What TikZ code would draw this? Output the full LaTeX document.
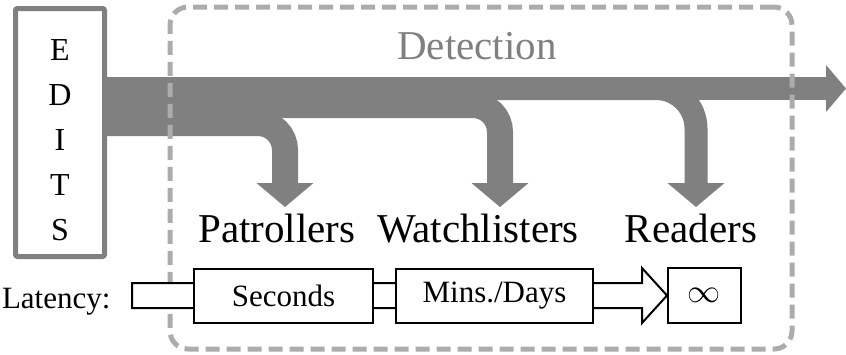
\documentclass[tikz,border=0pt]{standalone}
\usepackage{fontspec}
\setmainfont{Liberation Serif}
\usepackage{graphicx}
\usetikzlibrary{arrows.meta}
\definecolor{flowgray}{RGB}{128,128,128}
\definecolor{dashgray}{RGB}{172,172,172}
\newcommand{\bigfont}{\fontsize{41}{49}\selectfont}
\newcommand{\letterfont}{\fontsize{32}{38}\selectfont}
\newcommand{\smallfont}{\fontsize{31}{37}\selectfont}

\begin{document}
\begin{tikzpicture}[x=1pt,y=-1pt,
    editbox/.style={draw=flowgray,line width=5pt,rounded corners=2pt,minimum width=89pt,minimum height=248pt,inner sep=0pt},
    flow/.style={draw=flowgray,line width=#1},
    branch/.style={draw=flowgray,line width=26pt,-{Triangle[length=24pt,width=57pt,line width=0pt]}},
    detbox/.style={draw=dashgray,line width=5pt,rounded corners=18pt,dash pattern=on 14pt off 7pt,minimum width=622pt,minimum height=342pt},
    label/.style={anchor=base,font=\bigfont},
    latbox/.style={draw,line width=2pt,fill=white,font=\smallfont,inner sep=0pt,minimum height=54pt}]
        \useasboundingbox (0,0) rectangle (846,354);
        % edits box
        \node[editbox] (edits) at (60,132.5) {};
        \foreach \ch [count=\i from 0] in {E,D,I,T,S}
            \node[anchor=base,font=\letterfont] (edit\i) at (60,60+45*\i) {\ch};
        % flow out of the box
        \coordinate (patstart) at (107,123);
        \coordinate (watstart) at (107,105);
        \coordinate (readstart) at (107,88.5);
        \coordinate (patend) at (285,207);
        \coordinate (watend) at (500,207);
        \coordinate (readend) at (696,207);
        \coordinate (flowend) at (846,88.5);
        \draw[branch,rounded corners=27pt] (patstart) -| (patend);
        \draw[branch,rounded corners=27pt] (watstart) -| (watend);
        \draw[branch,line width=23pt,rounded corners=40pt] (readstart) -| (readend);
        \draw[flow=23pt,-{Triangle[length=20pt,width=47pt,line width=0pt]}] (readstart) -- (flowend);
        % detection area
        \node[detbox] (detect) at (481,178) {};
        \node[label,text=flowgray] (dettitle) at (477,59) {Detection};
        \node[label] (patrollers) at (277,242) {Patrollers};
        \node[label] (watchlisters) at (478,242) {Watchlisters};
        \node[label] (readers) at (691,242) {Readers};
        % latency row
        \node[anchor=base east,font=\smallfont] (latency) at (114,308) {Latency:};
        \node[latbox,minimum width=73pt,minimum height=55pt] (inf) at (704.5,295.5) {\scalebox{1.33}{$\infty$}};
        \draw[line width=2pt,fill=white] (132,283) -- (642,283) -- (642,268) -- (inf.west)
            -- (642,323) -- (642,308) -- (132,308) -- cycle;
        \node[latbox,minimum width=179pt] (seconds) at (283.5,296) {Seconds};
        \node[latbox,minimum width=197pt] (mins) at (494.5,296) {Mins./Days};
      \end{tikzpicture}
\end{document}
